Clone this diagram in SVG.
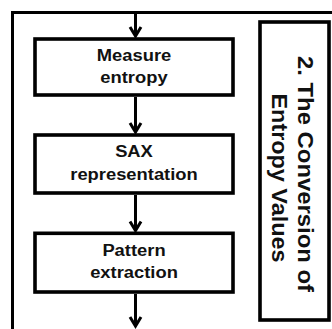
<svg xmlns="http://www.w3.org/2000/svg" width="332" height="329" viewBox="0 0 332 329">
  <style>
    .frame { fill: none; stroke: #000; stroke-width: 3; }
    .box { fill: #fff; stroke: #000; stroke-width: 3.6; }
    .edge { fill: none; stroke: #000; stroke-width: 3; }
    .lbl { font-family: "Liberation Sans", Arial, sans-serif; font-weight: bold; font-size: 17px; fill: #111; text-anchor: middle; }
    .vlbl { font-family: "Liberation Sans", Arial, sans-serif; font-weight: bold; font-size: 22px; fill: #111; text-anchor: middle; }
  </style>
  <defs>
    <marker id="chev" markerUnits="userSpaceOnUse" viewBox="-8 -10 16 12" refX="0" refY="0" markerWidth="16" markerHeight="12" orient="auto-start-reverse" overflow="visible">
      <path d="M-9,-5.5 L0,0 L-9,5.5" fill="none" stroke="#000" stroke-width="3" stroke-linejoin="miter"/>
    </marker>
  </defs>
  <rect width="332" height="329" fill="#fff"/>

  <!-- enclosing frame, open to the right and bottom -->
  <path class="frame" d="M12.5 329 V12.5 H332"/>

  <g id="connectors">
    <path class="edge" d="M135.5 12.5 V36" marker-end="url(#chev)"/>
    <path class="edge" d="M135.5 97 V132" marker-end="url(#chev)"/>
    <path class="edge" d="M135.5 195 V230.5" marker-end="url(#chev)"/>
    <path class="edge" d="M135.5 294 V326" marker-end="url(#chev)"/>
  </g>

  <g id="measure-entropy">
    <rect class="box" x="35" y="39" width="198" height="56"/>
    <text class="lbl" transform="translate(134 0) scale(1.08 1)"><tspan x="0" y="61.5">Measure</tspan><tspan x="0" y="83.5">entropy</tspan></text>
  </g>

  <g id="sax-representation">
    <rect class="box" x="35" y="135" width="198" height="58"/>
    <text class="lbl" transform="translate(134 0) scale(1.08 1)"><tspan x="0" y="157.5">SAX</tspan><tspan x="0" y="180">representation</tspan></text>
  </g>

  <g id="pattern-extraction">
    <rect class="box" x="35" y="233.3" width="198" height="58.7"/>
    <text class="lbl" transform="translate(134 0) scale(1.08 1)"><tspan x="0" y="255.7">Pattern</tspan><tspan x="0" y="278">extraction</tspan></text>
  </g>

  <g id="stage-title">
    <rect class="box" x="260" y="22" width="69" height="298"/>
    <text class="vlbl" transform="translate(298 174) rotate(90)" x="0" y="0" textLength="236" lengthAdjust="spacingAndGlyphs">2. The Conversion of</text>
    <text class="vlbl" transform="translate(272 178) rotate(90)" x="0" y="0" textLength="169" lengthAdjust="spacingAndGlyphs">Entropy Values</text>
  </g>
</svg>
